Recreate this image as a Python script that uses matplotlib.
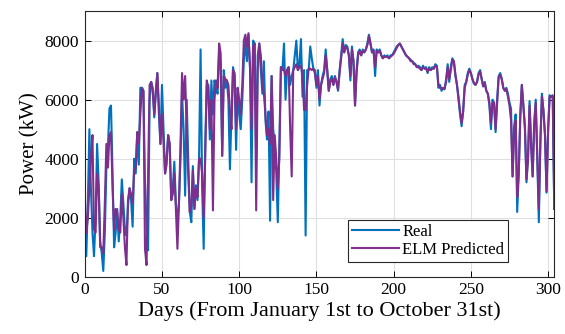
import numpy as np
import matplotlib
matplotlib.use('Agg')
import matplotlib.pyplot as plt

plt.rcParams['font.family'] = ['Liberation Serif', 'DejaVu Serif']
plt.rcParams['mathtext.fontset'] = 'stix'

# daily power, kW
real = [
    1500, 700, 2500, 5000, 3000, 1500, 700, 2000, 4500, 3200,
    1200, 800, 200, 1500, 3700, 4400, 5700, 5800, 3500, 1000,
    1500, 2300, 1200, 2000, 3300, 2500, 1600, 1400, 2400, 3000,
    2600, 1700, 4000, 3500, 4900, 3800, 6400, 6400, 6300, 3200,
    1800, 900, 6000, 6600, 6400, 5400, 6200, 6900, 5500, 4500,
    6500, 5000, 3500, 4000, 4800, 4500, 2600, 3000, 3900, 2500,
    1800, 2500, 4000, 6200, 5000, 2750, 6000, 4000, 2200, 1850,
    3750, 2300, 3100, 2600, 4000, 7700, 3100, 950, 4500, 6500,
    6500, 4650, 6650, 5500, 6650, 6400, 6200, 7600, 7200, 4100,
    7000, 6400, 6650, 6000, 3640, 5500, 7100, 6800, 4300, 6400,
    5500, 5000, 6000, 7300, 8000, 7300, 8200, 7100, 3200, 8000,
    7900, 4000, 7500, 7900, 7000, 6200, 7300, 5300, 4650, 5600,
    1900, 6800, 5000, 4500, 3500, 1850, 4500, 7100, 7000, 7900,
    6000, 7000, 7100, 6500, 6800, 7000, 7500, 8000, 7000, 7200,
    8050, 6100, 7000, 1400, 7000, 7000, 7800, 7400, 7050, 7000,
    6400, 7000, 5800, 6500, 6800, 7000, 7700, 7000, 6300, 6700,
    6800, 6500, 6800, 6600, 6300, 7000, 7500, 8050, 7600, 7850,
    7800, 7500, 6650, 7800, 7300, 5800, 7000, 7600, 7700, 7500,
    7700, 7600, 7700, 7900, 8200, 7900, 7600, 7700, 6800, 7700,
    7600, 7700, 7500, 7400, 7500, 7450, 7500, 7400, 7500, 7500,
    7600, 7700, 7800, 7850, 7900, 7800, 7700, 7600, 7500, 7450,
    7400, 7350, 7300, 7250, 7200, 7100, 7150, 7100, 7000, 7150,
    7050, 7100, 6900, 7100, 7000, 7100, 7050, 7200, 7150, 6400,
    6500, 6300, 6400, 6350, 6700, 7200, 6600, 7100, 7400, 7300,
    6800, 6500, 6000, 5500, 5100, 5600, 6500, 6600, 6900, 7050,
    6900, 6700, 6550, 6500, 6600, 6900, 7000, 6700, 6450, 6600,
    6300, 6200, 5800, 5000, 6000, 5900, 4900, 6000, 6800, 6900,
    6700, 6400, 6300, 6400, 6200, 5900, 5700, 3400, 5100, 5500,
    2200, 3500, 5500, 6500, 5800, 5100, 3200, 4000, 5950, 4500,
    3400, 5200, 6000, 4000, 1850, 4500, 6200, 5650, 4800, 2850,
    5000, 6150, 6100, 6100, 2300,
]

elm = [
    2800, 1500, 2000, 3000, 4000, 4800, 1600, 1500, 3500, 3000,
    1000, 1000, 800, 2500, 4500, 3700, 4800, 4900, 3000, 1600,
    2300, 2200, 1600, 1500, 2800, 2000, 1000, 400, 2600, 3000,
    2800, 2500, 3600, 3700, 4900, 4500, 5500, 6400, 6300, 950,
    400, 3500, 6500, 6600, 6300, 5500, 6300, 6900, 5800, 4500,
    5500, 4600, 3500, 3800, 4800, 4500, 2600, 2800, 3500, 2300,
    950, 2500, 4500, 6900, 6000, 6800, 5000, 3500, 2200, 2400,
    3600, 2300, 3000, 2700, 4000, 4000, 3500, 2000, 4000, 6650,
    6400, 5000, 6000, 2250, 6000, 6650, 6400, 7900, 7560, 4100,
    6800, 6700, 6650, 6500, 5600, 5000, 7000, 6900, 5000, 6400,
    6000, 5500, 6500, 8000, 8200, 7800, 8250, 7100, 5000, 7800,
    7900, 2250, 7000, 7900, 7500, 6500, 6200, 5500, 4800, 5000,
    4500, 6800, 2600, 4800, 4000, 3000, 4000, 7100, 7050, 7000,
    6800, 7000, 7100, 5000, 3400, 7000, 7100, 7200, 7000, 7100,
    7150, 6800, 5650, 5650, 6500, 7050, 7050, 7000, 7050, 6900,
    6500, 6800, 6000, 6500, 6700, 6900, 7500, 7000, 6300, 6600,
    6700, 6500, 6750, 6600, 6350, 6900, 7400, 7900, 7600, 7800,
    7750, 7500, 6800, 7700, 7300, 5800, 6900, 7500, 7650, 7500,
    7650, 7600, 7700, 7850, 8150, 7900, 7600, 7650, 7100, 7650,
    7600, 7650, 7500, 7400, 7450, 7450, 7450, 7400, 7450, 7500,
    7550, 7650, 7750, 7850, 7900, 7800, 7700, 7600, 7500, 7450,
    7400, 7300, 7300, 7200, 7200, 7100, 7100, 7050, 7000, 7100,
    7050, 7050, 6950, 7050, 7000, 7050, 7050, 7150, 7100, 6500,
    6400, 6400, 6350, 6400, 6600, 7100, 6700, 7000, 7350, 7300,
    6850, 6500, 6100, 5600, 5200, 5600, 6400, 6600, 6850, 7000,
    6900, 6700, 6550, 6500, 6600, 6850, 6950, 6700, 6450, 6550,
    6300, 6200, 5900, 5200, 5900, 5900, 5000, 5900, 6750, 6850,
    6700, 6400, 6300, 6350, 6100, 5800, 5300, 3400, 4800, 5300,
    2700, 3500, 5400, 6500, 5800, 5000, 3300, 4000, 5800, 4500,
    3400, 5100, 5900, 4100, 2300, 4600, 6100, 5600, 4800, 2900,
    4900, 6100, 6100, 6150, 2300,
]

days = np.arange(len(real))

fig = plt.figure(figsize=(5.65, 3.34), dpi=100)
ax = fig.add_axes([0.150, 0.171, 0.831, 0.796])

ax.plot(days, real, color='#0072BD', lw=1.5, label='Real')
ax.plot(days, elm, color='#7E2F8E', lw=1.5, label='ELM Predicted')

ax.set_xlim(0, 304)
ax.set_ylim(0, 9000)
ax.set_xticks([0, 50, 100, 150, 200, 250, 300])
ax.set_yticks([0, 2000, 4000, 6000, 8000])
ax.grid(True, color='#e0e0e0', lw=0.8)
ax.set_axisbelow(True)
ax.tick_params(direction='in', top=True, right=True, labelsize=12.5, length=4, width=0.7, pad=4)
for s in ax.spines.values():
    s.set_linewidth(0.8)
    s.set_color('#262626')

ax.set_xlabel('Days (From January 1st to October 31st)', fontsize=16, labelpad=2)
ax.set_ylabel('Power (kW)', fontsize=15, labelpad=4)

leg = ax.legend(loc='lower right', bbox_to_anchor=(0.902, 0.056), fontsize=12,
                handlelength=2.8, handletextpad=0.2, borderpad=0.25, labelspacing=0.1,
                fancybox=False, framealpha=1, borderaxespad=0)
leg.get_frame().set_edgecolor('#262626')
leg.get_frame().set_linewidth(0.8)

fig.savefig('out.png', dpi=100)
